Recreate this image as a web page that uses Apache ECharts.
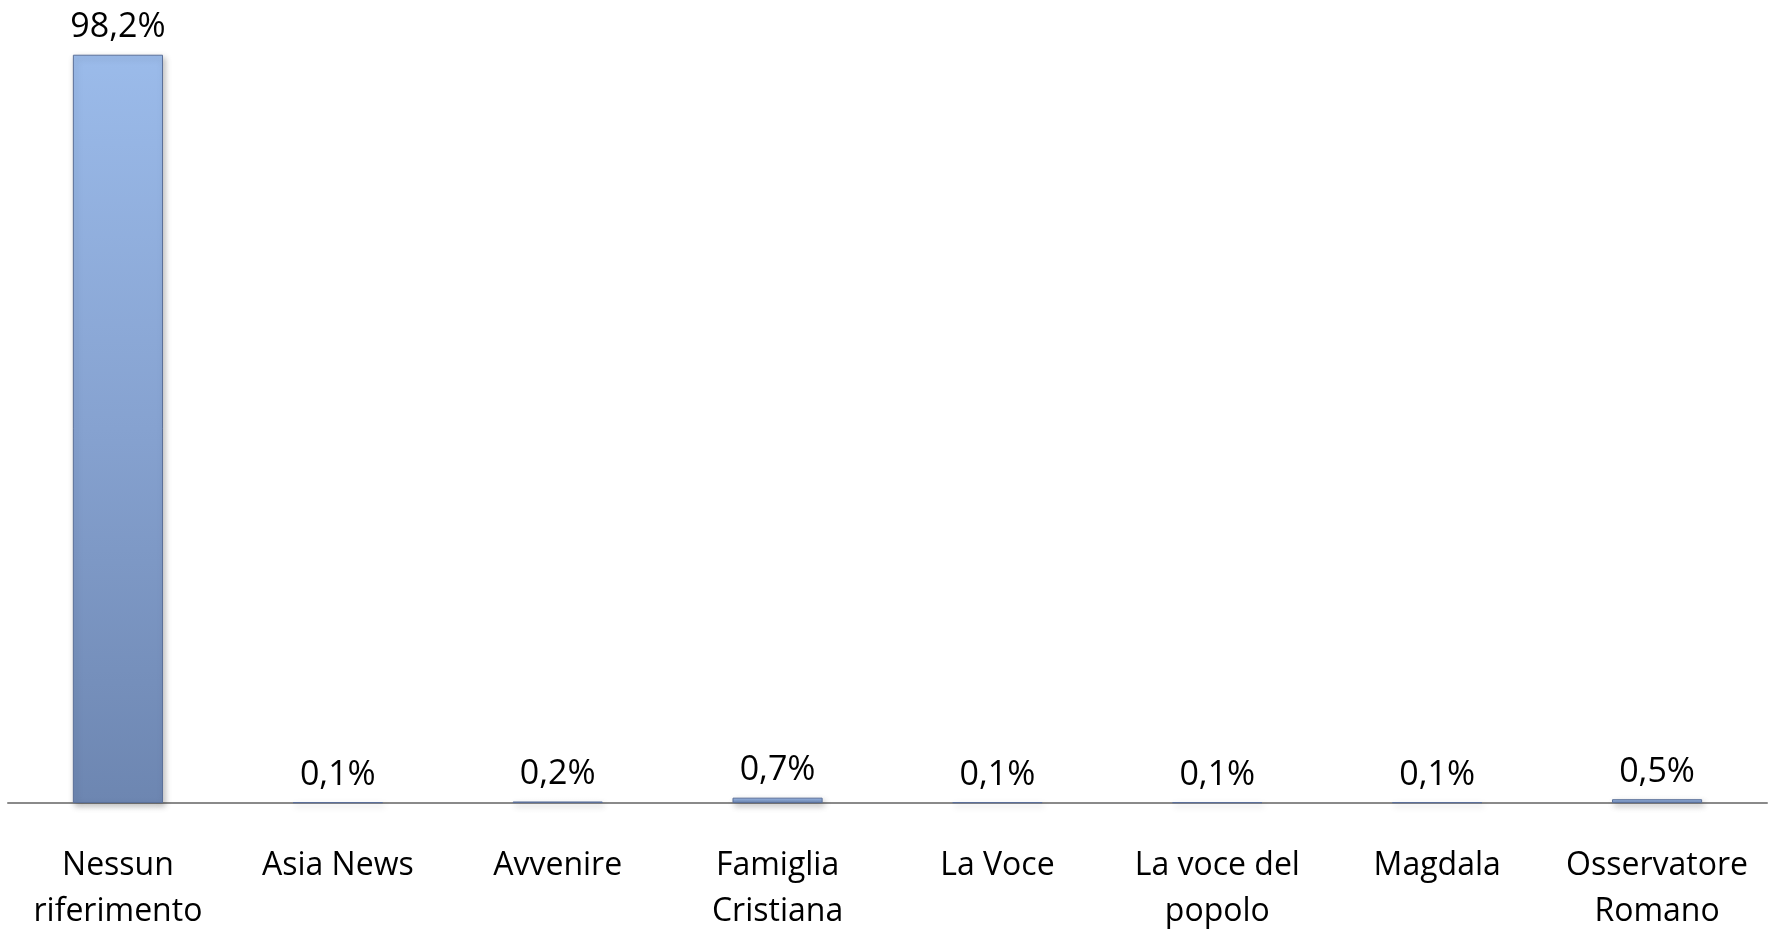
<!DOCTYPE html>
<html>
<head>
<meta charset="utf-8">
<script src="https://cdn.jsdelivr.net/npm/echarts@6/dist/echarts.min.js"></script>
<style>
html,body{margin:0;padding:0;background:#fff;}
#chart{width:1777px;height:930px;}
</style>
</head>
<body>
<div id="chart"></div>
<script>
const categories = ["Nessun\nriferimento", "Asia News", "Avvenire", "Famiglia\nCristiana", "La Voce", "La voce del\npopolo", "Magdala", "Osservatore\nRomano"];
const values = [98.2, 0.1, 0.2, 0.7, 0.1, 0.1, 0.1, 0.5];

const FONT = "'Open Sans', 'Noto Sans', sans-serif";
const chart = echarts.init(document.getElementById('chart'));
chart.setOption({
  backgroundColor: '#ffffff',
  animation: false,
  grid: { left: 8, right: 10, top: 41, bottom: 127, containLabel: false, outerBoundsMode: 'none' },
  xAxis: {
    type: 'category',
    data: categories,
    axisLine: { lineStyle: { color: '#8a8a8a', width: 2 } },
    axisTick: { show: false },
    axisLabel: {
      interval: 0,
      margin: 40,
      color: '#000',
      fontFamily: FONT,
      fontSize: 32,
      lineHeight: 46
    }
  },
  yAxis: {
    type: 'value',
    min: 0,
    max: 100,
    show: false,
    splitLine: { show: false }
  },
  series: [{
    type: 'bar',
    data: values,
    barWidth: '41%',
    itemStyle: {
      color: new echarts.graphic.LinearGradient(0, 0, 0, 1, [
        { offset: 0, color: '#9bbbea' },
        { offset: 0.5, color: '#86a2d0' },
        { offset: 1, color: '#6d86b1' }
      ]),
      borderColor: '#5b7099',
      borderWidth: 1,
      shadowColor: 'rgba(0,0,0,0.25)',
      shadowBlur: 6,
      shadowOffsetX: 2,
      shadowOffsetY: 3
    },
    label: {
      show: true,
      position: 'top',
      distance: 10,
      color: '#000',
      fontFamily: FONT,
      fontSize: 34,
      lineHeight: 34,
      formatter: p => String(p.value).replace('.', ',') + '%'
    }
  }]
});
</script>
</body>
</html>
